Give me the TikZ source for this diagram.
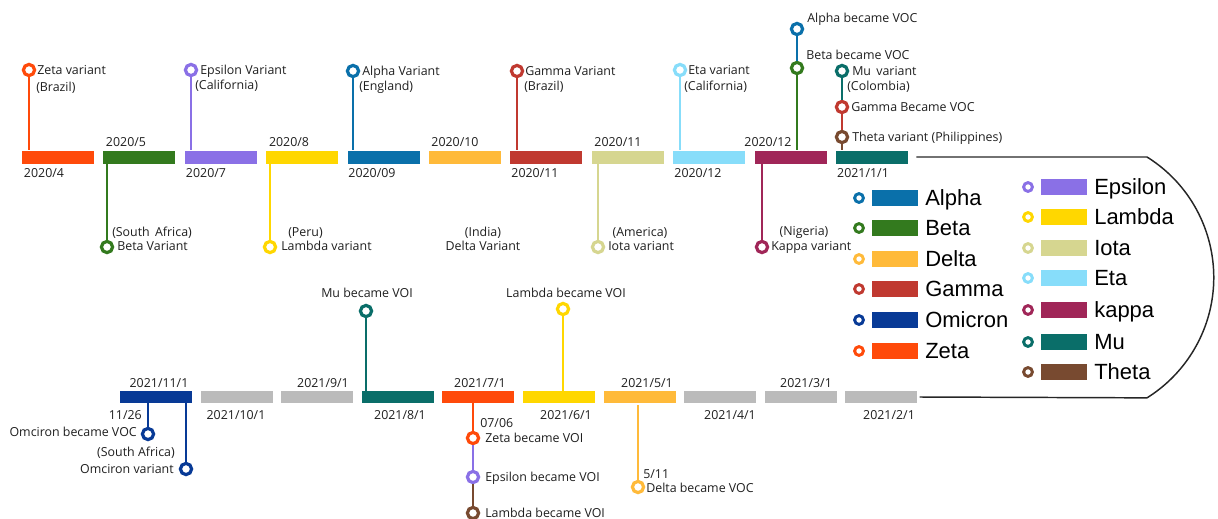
\documentclass[tikz,border=0pt]{standalone}
\usepackage{fontspec}
\setmainfont{Open Sans}
\newfontfamily\keyfont{Liberation Sans}
\usepackage{tikz}
\usetikzlibrary{positioning,calc}

\definecolor{zetaC}{RGB}{255,74,10}
\definecolor{betaC}{RGB}{51,122,30}
\definecolor{epsC}{RGB}{138,112,230}
\definecolor{lambdaC}{RGB}{255,215,0}
\definecolor{alphaC}{RGB}{10,112,170}
\definecolor{deltaC}{RGB}{255,186,58}
\definecolor{gammaC}{RGB}{192,57,48}
\definecolor{iotaC}{RGB}{214,214,144}
\definecolor{etaC}{RGB}{135,221,250}
\definecolor{kappaC}{RGB}{160,38,88}
\definecolor{muC}{RGB}{10,110,105}
\definecolor{omiC}{RGB}{8,58,150}
\definecolor{thetaC}{RGB}{120,74,48}
\definecolor{grayC}{RGB}{187,187,187}

\tikzset{
  bar/.style={rectangle, inner sep=0pt, minimum width=54pt, minimum height=9.75pt},
  ring/.style={circle, draw=#1, fill=white, line width=2.4pt, inner sep=0pt, minimum size=8.4pt},
  stem/.style={line width=2.2pt},
  lbl/.style={font=\fontsize{9.3}{11}\selectfont, text=black!88, inner sep=0pt, text height=6.6pt, text depth=0pt},
  key/.style={rectangle, inner sep=0pt, minimum width=34.5pt, minimum height=12pt},
  keyring/.style={circle, draw=#1, fill=white, line width=2.2pt, inner sep=0pt, minimum size=6.6pt},
  keytext/.style={font=\keyfont\fontsize{16.5}{18}\selectfont, inner sep=0pt, anchor=west, text height=11.8pt, text depth=0pt},
  outline/.style={line width=1.1pt, black!85}
}

\begin{document}
\begin{tikzpicture}[x=0.75pt, y=-0.75pt]
  \useasboundingbox (0,0) rectangle (1218,518);

  % top row, 2020/4 -- 2021/1/1
  \foreach \c [count=\i from 0] in {zetaC,betaC,epsC,lambdaC,alphaC,deltaC,gammaC,iotaC,etaC,kappaC,muC}
    \node[bar, fill=\c] (top\i) at ({58+81.4*\i},157) {};
  % bottom row, 2021/11/1 -- 2021/2/1
  \foreach \c [count=\i from 0] in {omiC,grayC,grayC,muC,zetaC,lambdaC,deltaC,grayC,grayC,grayC}
    \node[bar, minimum height=9pt, fill=\c] (bot\i) at ({156+80.6*\i},397) {};

  % return line round the legend
  \draw[outline] ([xshift=6pt]top10.east) -- (1147,157)
    arc[start angle=-58, end angle=58, radius=142] -- ([xshift=1.5pt]bot9.east);

  % dates, top row
  \node[lbl] (dA) at (44,173) {2020/4};
  \node[lbl] (dB) at (126,142) {2020/5};
  \node[lbl] (dC) at (206,173) {2020/7};
  \node[lbl] (dD) at (289,142) {2020/8};
  \node[lbl] (dE) at (372,173) {2020/09};
  \node[lbl] (dF) at (455,142) {2020/10};
  \node[lbl] (dG) at (535,173) {2020/11};
  \node[lbl] (dH) at (618,142) {2020/11};
  \node[lbl] (dI) at (698,173) {2020/12};
  \node[lbl] (dJ) at (768,142) {2020/12};
  \node[lbl] (dK) at (863,173) {2021/1/1};
  % dates, bottom row
  \node[lbl] (eA) at (159,383) {2021/11/1};
  \node[lbl] (eB) at (236,415) {2021/10/1};
  \node[lbl] (eC) at (323,383) {2021/9/1};
  \node[lbl] (eD) at (400,415) {2021/8/1};
  \node[lbl] (eE) at (480,383) {2021/7/1};
  \node[lbl] (eF) at (566,415) {2021/6/1};
  \node[lbl] (eG) at (647,383) {2021/5/1};
  \node[lbl] (eH) at (730,415) {2021/4/1};
  \node[lbl] (eI) at (806,383) {2021/3/1};
  \node[lbl] (eJ) at (889,415) {2021/2/1};

  % Zeta variant
  \node[ring=zetaC] (zeta) at (29,70) {};
  \draw[stem, zetaC] (zeta) -- (zeta |- top0.north);
  \node[lbl, anchor=west] (zetaT) at (37,70) {Zeta variant};
  \node[lbl, anchor=west] (zetaP) at (36,87) {(Brazil)};
  % Beta variant
  \node[ring=betaC] (beta) at (107,247) {};
  \draw[stem, betaC] (beta) -- (beta |- top1.south);
  \node[lbl, anchor=west] (betaT) at (117,246) {Beta Variant};
  \node[lbl, anchor=west] (betaP) at (112,232) {(South \,Africa)};
  % Epsilon variant
  \node[ring=epsC] (eps) at (191,70) {};
  \draw[stem, epsC] (eps) -- (eps |- top2.north);
  \node[lbl, anchor=west] (epsT) at (200,70) {Epsilon Variant};
  \node[lbl, anchor=west] (epsP) at (195,85) {(California)};
  % Lambda variant
  \node[ring=lambdaC] (lam) at (270,247) {};
  \draw[stem, lambdaC] (lam) -- (lam |- top3.south);
  \node[lbl, anchor=west] (lamT) at (281,246) {Lambda variant};
  \node[lbl, anchor=west] (lamP) at (288,232) {(Peru)};
  % Alpha variant
  \node[ring=alphaC] (alp) at (353,71) {};
  \draw[stem, alphaC] (alp) -- (alp |- top4.north);
  \node[lbl, anchor=west] (alpT) at (362,71) {Alpha Variant};
  \node[lbl, anchor=west] (alpP) at (359,86) {(England)};
  % Delta variant, no marker
  \node[lbl] (delP) at (483,232) {(India)};
  \node[lbl] (delT) at (483,246) {Delta Variant};
  % Gamma variant
  \node[ring=gammaC] (gam) at (517,71) {};
  \draw[stem, gammaC] (gam) -- (gam |- top6.north);
  \node[lbl, anchor=west] (gamT) at (525,71) {Gamma Variant};
  \node[lbl, anchor=west] (gamP) at (524,86) {(Brazil)};
  % Iota variant
  \node[ring=iotaC] (iota) at (598,247) {};
  \draw[stem, iotaC] (iota) -- (iota |- top7.south);
  \node[lbl, anchor=west] (iotaT) at (608,246) {Iota variant};
  \node[lbl] (iotaP) at (640,232) {(America)};
  % Eta variant
  \node[ring=etaC] (eta) at (680,70) {};
  \draw[stem, etaC] (eta) -- (eta |- top8.north);
  \node[lbl, anchor=west] (etaT) at (688,70) {Eta variant};
  \node[lbl, anchor=west] (etaP) at (684,86) {(California)};
  % Kappa variant
  \node[ring=kappaC] (kap) at (762,247) {};
  \draw[stem, kappaC] (kap) -- (kap |- top9.south);
  \node[lbl, anchor=west] (kapT) at (771,246) {Kappa variant};
  \node[lbl] (kapP) at (804,231) {(Nigeria)};
  % Beta and Alpha became VOC
  \node[ring=betaC] (bvoc) at (797,68) {};
  \node[ring=alphaC] (avoc) at (797,29) {};
  \draw[stem, betaC] (bvoc) -- (bvoc |- top9.north);
  \draw[stem, alphaC] (avoc) -- (bvoc);
  \node[lbl, anchor=west] (avocT) at (807,18) {Alpha became VOC};
  \node[lbl, anchor=west] (bvocT) at (806,55) {Beta became VOC};
  % Theta, Gamma VOC and Mu
  \node[ring=thetaC] (the) at (842,137) {};
  \node[ring=gammaC] (gvoc) at (842,107) {};
  \node[ring=muC] (mu) at (842,71) {};
  \draw[stem, thetaC] (the) -- (the |- top10.north);
  \draw[stem, gammaC] (the) -- (gvoc);
  \draw[stem, muC] (gvoc) -- (mu);
  \node[lbl, anchor=west] (muT) at (852,71) {Mu \,variant};
  \node[lbl, anchor=west] (muP) at (847,86) {(Colombia)};
  \node[lbl, anchor=west] (gvocT) at (851,107) {Gamma Became VOC};
  \node[lbl, anchor=west] (theT) at (852,137) {Theta variant (Philippines)};

  % Omicron
  \node[ring=omiC] (om1) at (148,434) {};
  \node[ring=omiC] (om2) at (186,469) {};
  \draw[stem, omiC] (om1) -- (om1 |- bot0.south);
  \draw[stem, omiC] (om2) -- (om2 |- bot0.south);
  \node[lbl, anchor=east] (om1D) at (142,415) {11/26};
  \node[lbl, anchor=east] (om1T) at (137,432) {Omciron became VOC};
  \node[lbl, anchor=east] (om2P) at (175,452) {(South Africa)};
  \node[lbl, anchor=east] (om2T) at (174,469) {Omciron variant};
  % Mu became VOI
  \node[ring=muC] (muvoi) at (366,311) {};
  \draw[stem, muC] (muvoi) -- (muvoi |- bot3.north);
  \node[lbl] (muvoiT) at (367,293) {Mu became VOI};
  % Zeta, Epsilon, Lambda became VOI
  \node[ring=zetaC] (zvoi) at (473,438) {};
  \node[ring=epsC] (evoi) at (473,477) {};
  \node[ring=thetaC] (lvoi) at (473,513) {};
  \draw[stem, zetaC] (zvoi) -- (zvoi |- bot4.south);
  \draw[stem, epsC] (zvoi) -- (evoi);
  \draw[stem, thetaC] (evoi) -- (lvoi);
  \node[lbl, anchor=west] (zvoiD) at (480,423) {07/06};
  \node[lbl, anchor=west] (zvoiT) at (485,438) {Zeta became VOI};
  \node[lbl, anchor=west] (evoiT) at (485,477) {Epsilon became VOI};
  \node[lbl, anchor=west] (lvoiT) at (485,513) {Lambda became VOI};
  % Lambda became VOI
  \node[ring=lambdaC] (lamvoi) at (563,309) {};
  \draw[stem, lambdaC] (lamvoi) -- (lamvoi |- bot5.north);
  \node[lbl] (lamvoiT) at (566,293) {Lambda became VOI};
  % Delta became VOC
  \node[ring=deltaC] (dvoc) at (638,487) {};
  \draw[stem, deltaC] (dvoc) -- ([yshift=-1.5pt]dvoc |- bot6.south);
  \node[lbl, anchor=west] (dvocD) at (643,474) {5/11};
  \node[lbl, anchor=west] (dvocT) at (646,488) {Delta became VOC};

  % legend
  \foreach \c/\n/\y in {alphaC/Alpha/198, betaC/Beta/228, deltaC/Delta/259, gammaC/Gamma/289, omiC/Omicron/320, zetaC/Zeta/351} {
    \node[keyring=\c] (r\n) at (859,\y) {};
    \node[key, fill=\c] (k\n) at (895,\y) {};
    \node[keytext] (t\n) at (925,\y) {\n};
  }
  \foreach \c/\n/\y in {epsC/Epsilon/187, lambdaC/Lambda/217, iotaC/Iota/248, etaC/Eta/278, kappaC/kappa/310, muC/Mu/342, thetaC/Theta/372} {
    \node[keyring=\c] (r\n) at (1028,\y) {};
    \node[key, fill=\c] (k\n) at (1064,\y) {};
    \node[keytext] (t\n) at (1094,\y) {\n};
  }
\end{tikzpicture}
\end{document}
